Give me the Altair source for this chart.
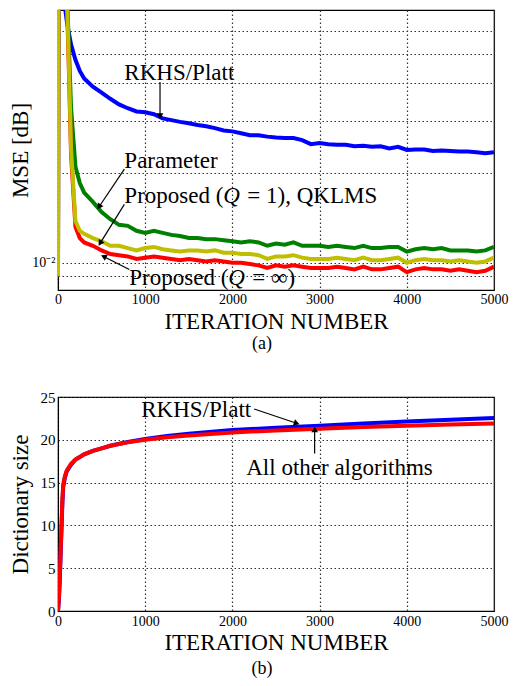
import altair as alt
import pandas as pd

FONT = "Liberation Serif"

# ---------------- panel (a): MSE learning curves ----------------
iters_a = [0, 10, 50, 80, 100, 120, 150, 200, 250, 300] + list(range(400, 5001, 100))

mse_rkhs = [0.009, 1.0, 0.2, 0.072, 0.065, 0.060, 0.054, 0.048, 0.044, 0.0415,
            0.0390, 0.0372, 0.0355, 0.0340, 0.0330, 0.0322, 0.0320, 0.0315, 0.0305, 0.0301,
            0.0297, 0.0294, 0.0290, 0.0287, 0.0283, 0.0278, 0.0276, 0.0272, 0.0268, 0.0268,
            0.0265, 0.0263, 0.0262, 0.0262, 0.0258, 0.0250, 0.0252, 0.0250, 0.0249, 0.0249,
            0.0246, 0.0247, 0.0245, 0.0246, 0.0242, 0.0245, 0.0239, 0.0240, 0.0240, 0.0237,
            0.0238, 0.0237, 0.0236, 0.0236, 0.0235, 0.0233, 0.0235]

mse_param = [0.009, 1.0, 0.4, 0.15, 0.085, 0.058, 0.033, 0.0210, 0.0185, 0.0172,
             0.0160, 0.0148, 0.0140, 0.0134, 0.0133, 0.0128, 0.0126, 0.0128, 0.0126, 0.0124,
             0.0123, 0.0121, 0.0121, 0.0120, 0.0120, 0.0119, 0.0118, 0.0117, 0.0118, 0.0117,
             0.0114, 0.0116, 0.0115, 0.0117, 0.0114, 0.0114, 0.0114, 0.0113, 0.0114, 0.0113,
             0.0112, 0.0114, 0.0112, 0.0112, 0.0113, 0.0113, 0.0109, 0.0111, 0.0112, 0.0111,
             0.0112, 0.0110, 0.0110, 0.0110, 0.0109, 0.0110, 0.0113]

mse_q1 = [0.009, 1.0, 0.4, 0.15, 0.082, 0.052, 0.024, 0.0138, 0.0128, 0.0125,
          0.0121, 0.0118, 0.0114, 0.0114, 0.0112, 0.0110, 0.0112, 0.0113, 0.0111, 0.0110,
          0.0109, 0.0110, 0.0110, 0.0109, 0.0110, 0.0108, 0.0108, 0.0107, 0.0107, 0.0106,
          0.0103, 0.0105, 0.0105, 0.0106, 0.0104, 0.0103, 0.0103, 0.0103, 0.0104, 0.0103,
          0.0102, 0.0104, 0.0102, 0.0102, 0.0103, 0.0104, 0.0100, 0.0102, 0.0103, 0.0102,
          0.0102, 0.0101, 0.0102, 0.0101, 0.0100, 0.0101, 0.0104]

mse_qinf = [0.009, 1.0, 0.4, 0.15, 0.080, 0.050, 0.023, 0.0132, 0.0121, 0.0117,
            0.0114, 0.0110, 0.0107, 0.0106, 0.0105, 0.0103, 0.0104, 0.0105, 0.0104, 0.0103,
            0.0102, 0.0103, 0.0102, 0.0101, 0.0102, 0.0101, 0.0100, 0.0100, 0.0099, 0.0098,
            0.0096, 0.0098, 0.0097, 0.0098, 0.0097, 0.0096, 0.0096, 0.0096, 0.0097, 0.0096,
            0.0095, 0.0097, 0.0095, 0.0095, 0.0096, 0.0097, 0.0093, 0.0095, 0.0096, 0.0095,
            0.0095, 0.0094, 0.0095, 0.0094, 0.0093, 0.0094, 0.0097]

series_a = [("RKHS/Platt", mse_rkhs, "#0000ff"),
            ("Parameter", mse_param, "#008000"),
            ("Proposed Q=inf", mse_qinf, "#ff0000"),
            ("Proposed Q=1", mse_q1, "#bfbf00")]

# annotations (a): label heads (upright), italic Q and tails, anchored at iter/value
ann_a_text = ["RKHS/Platt", "Parameter", "Proposed (", "Proposed ("]
ann_a_tx = [761, 761, 761, 818]
ann_a_ty = [0.0433, 0.0219, 0.0167, 0.00886]
ann_a_q = ["Q", "Q"]
ann_a_tail = ["= 1), QKLMS", "= \u221e)"]
ann_a_qx = [761, 818]
ann_a_qy = [0.0167, 0.00886]
# arrows (a): start -> end, head angle
arr_a_x = [1170, 761, 761, 818]
arr_a_y = [0.0404, 0.0206, 0.0157, 0.00949]
arr_a_x2 = [1170, 477, 489, 534]
arr_a_y2 = [0.0313, 0.0155, 0.0117, 0.01046]
arr_a_ang = [180, 213, 212, 297]

# ---------------- panel (b): dictionary size ----------------
iters_b = [0, 10, 20, 30, 40, 50, 60, 80, 100, 150, 200, 250, 300, 400, 500, 600,
           800, 1000, 1250, 1500, 2000, 2500, 3000, 3500, 4000, 4500, 5000]
dict_others = [0, 1.5, 4, 7, 10, 13, 14.8, 15.8, 16.4, 17.2, 17.7, 18.0, 18.3, 18.7, 19.0, 19.3,
               19.7, 20.0, 20.3, 20.5, 20.85, 21.1, 21.3, 21.5, 21.65, 21.8, 21.9]
dict_rkhs = [0, 1.2, 3.5, 6.5, 9.5, 12.5, 14.5, 15.6, 16.3, 17.1, 17.7, 18.0, 18.3, 18.7, 19.0, 19.3,
             19.75, 20.1, 20.45, 20.7, 21.15, 21.4, 21.65, 21.9, 22.15, 22.35, 22.55]

series_b = [("RKHS/Platt", dict_rkhs, "#0000ff"),
            ("All other algorithms", dict_others, "#ff0000")]

ann_b_text = ["RKHS/Platt", "All other algorithms"]
ann_b_tx = [955, 2159]
ann_b_ty = [23.5, 16.7]
arr_b_x = [2250, 2943]
arr_b_y = [23.6, 18.4]
arr_b_x2 = [2727, 2943]
arr_b_y2 = [21.96, 21.1]
arr_b_ang = [108, 0]

x_ticks = [0, 1000, 2000, 3000, 4000, 5000]
y_grid_a = [0.009, 0.01, 0.02, 0.03, 0.04, 0.05, 0.06]
y_ticks_b = [0, 5, 10, 15, 20, 25]

ANN_SIZE = 23

# ---------------- build ----------------
def line_layers(series, iters, xenc, yenc):
    layers = []
    for name, vals, col in series:
        df = pd.DataFrame({"iter": iters, "val": vals})
        layers.append(alt.Chart(df).mark_line(color=col, strokeWidth=4, clip=True)
                      .encode(x=xenc, y=yenc))
    return layers

def text_layer(texts, tx, ty, xs, ys, dx=0, style="normal"):
    tdf = pd.DataFrame({"t": texts, "x": tx, "y": ty})
    return alt.Chart(tdf).mark_text(font=FONT, fontSize=ANN_SIZE, align="left",
                                    baseline="middle", color="black", dx=dx,
                                    fontStyle=style).encode(
        x=alt.X("x:Q", scale=xs), y=alt.Y("y:Q", scale=ys), text="t:N")

def arrow_layers(ax, ay, ax2, ay2, ang, xs, ys):
    adf = pd.DataFrame({"x": ax, "y": ay, "x2": ax2, "y2": ay2, "a": ang})
    rule = alt.Chart(adf).mark_rule(color="black", strokeWidth=1.2).encode(
        x=alt.X("x:Q", scale=xs), y=alt.Y("y:Q", scale=ys), x2="x2:Q", y2="y2:Q")
    head = alt.Chart(adf).mark_point(shape="triangle", filled=True, color="black",
                                     size=45, opacity=1).encode(
        x=alt.X("x2:Q", scale=xs), y=alt.Y("y2:Q", scale=ys),
        angle=alt.Angle("a:Q", scale=None))
    return [rule, head]

xs = alt.Scale(domain=[0, 5000], nice=False, zero=False)
ys_a = alt.Scale(type="log", domain=[0.0081, 0.0705], nice=False)
ys_b = alt.Scale(domain=[0, 25], nice=False)

xenc_a = alt.X("iter:Q", scale=xs, axis=alt.Axis(
    values=x_ticks, format="d", title="ITERATION NUMBER", labelFontSize=14, titleFontSize=23,
    labelPadding=2, titlePadding=4, grid=True, labelFlush=False))
yenc_a = alt.Y("val:Q", scale=ys_a, axis=alt.Axis(
    values=y_grid_a, labelExpr="abs(datum.value - 0.01) < 1e-9 ? '10\u207b\u00b2' : ''",
    labelOverlap=False, title="MSE [dB]", labelFontSize=14, titleFontSize=23,
    minExtent=23, maxExtent=23, labelPadding=3, titlePadding=3, grid=True))

xenc_b = alt.X("iter:Q", scale=xs, axis=alt.Axis(
    values=x_ticks, format="d", title="ITERATION NUMBER", labelFontSize=14, titleFontSize=23,
    labelPadding=3, titlePadding=3, grid=True, labelFlush=False))
yenc_b = alt.Y("val:Q", scale=ys_b, axis=alt.Axis(
    values=y_ticks_b, title="Dictionary size", labelFontSize=15, titleFontSize=23,
    minExtent=23, maxExtent=23, labelPadding=3, titlePadding=3, grid=True))

top = alt.layer(
    *line_layers(series_a, iters_a, xenc_a, yenc_a),
    *arrow_layers(arr_a_x, arr_a_y, arr_a_x2, arr_a_y2, arr_a_ang, xs, ys_a),
    text_layer(ann_a_text, ann_a_tx, ann_a_ty, xs, ys_a),
    text_layer(ann_a_q, ann_a_qx, ann_a_qy, xs, ys_a, dx=99, style="italic"),
    text_layer(ann_a_tail, ann_a_qx, ann_a_qy, xs, ys_a, dx=123),
).properties(width=436, height=280,
             title=alt.TitleParams("(a)", orient="bottom", fontSize=18, font=FONT,
                                   fontWeight="normal", anchor="middle", frame="group",
                                   dx=-14, offset=2))

bottom = alt.layer(
    *line_layers(series_b, iters_b, xenc_b, yenc_b),
    *arrow_layers(arr_b_x, arr_b_y, arr_b_x2, arr_b_y2, arr_b_ang, xs, ys_b),
    text_layer(ann_b_text, ann_b_tx, ann_b_ty, xs, ys_b),
).properties(width=436, height=214,
             title=alt.TitleParams("(b)", orient="bottom", fontSize=18, font=FONT,
                                   fontWeight="normal", anchor="middle", frame="group",
                                   dx=-14, offset=6))

chart = alt.vconcat(top, bottom, spacing=35).properties(
    padding={"left": 0, "top": 1, "right": 0, "bottom": 0}
).configure_axis(
    labelFont=FONT, titleFont=FONT, titleFontWeight="normal", labelColor="black",
    titleColor="black", domainColor="black", ticks=False, gridColor="#333333",
    gridDash=[1.5, 2.5], gridWidth=1.2, gridOpacity=1
).configure_view(stroke="black", strokeWidth=1.2).configure_title(color="black")

chart.save("out.html", embed_options={"renderer": "svg", "actions": False})
